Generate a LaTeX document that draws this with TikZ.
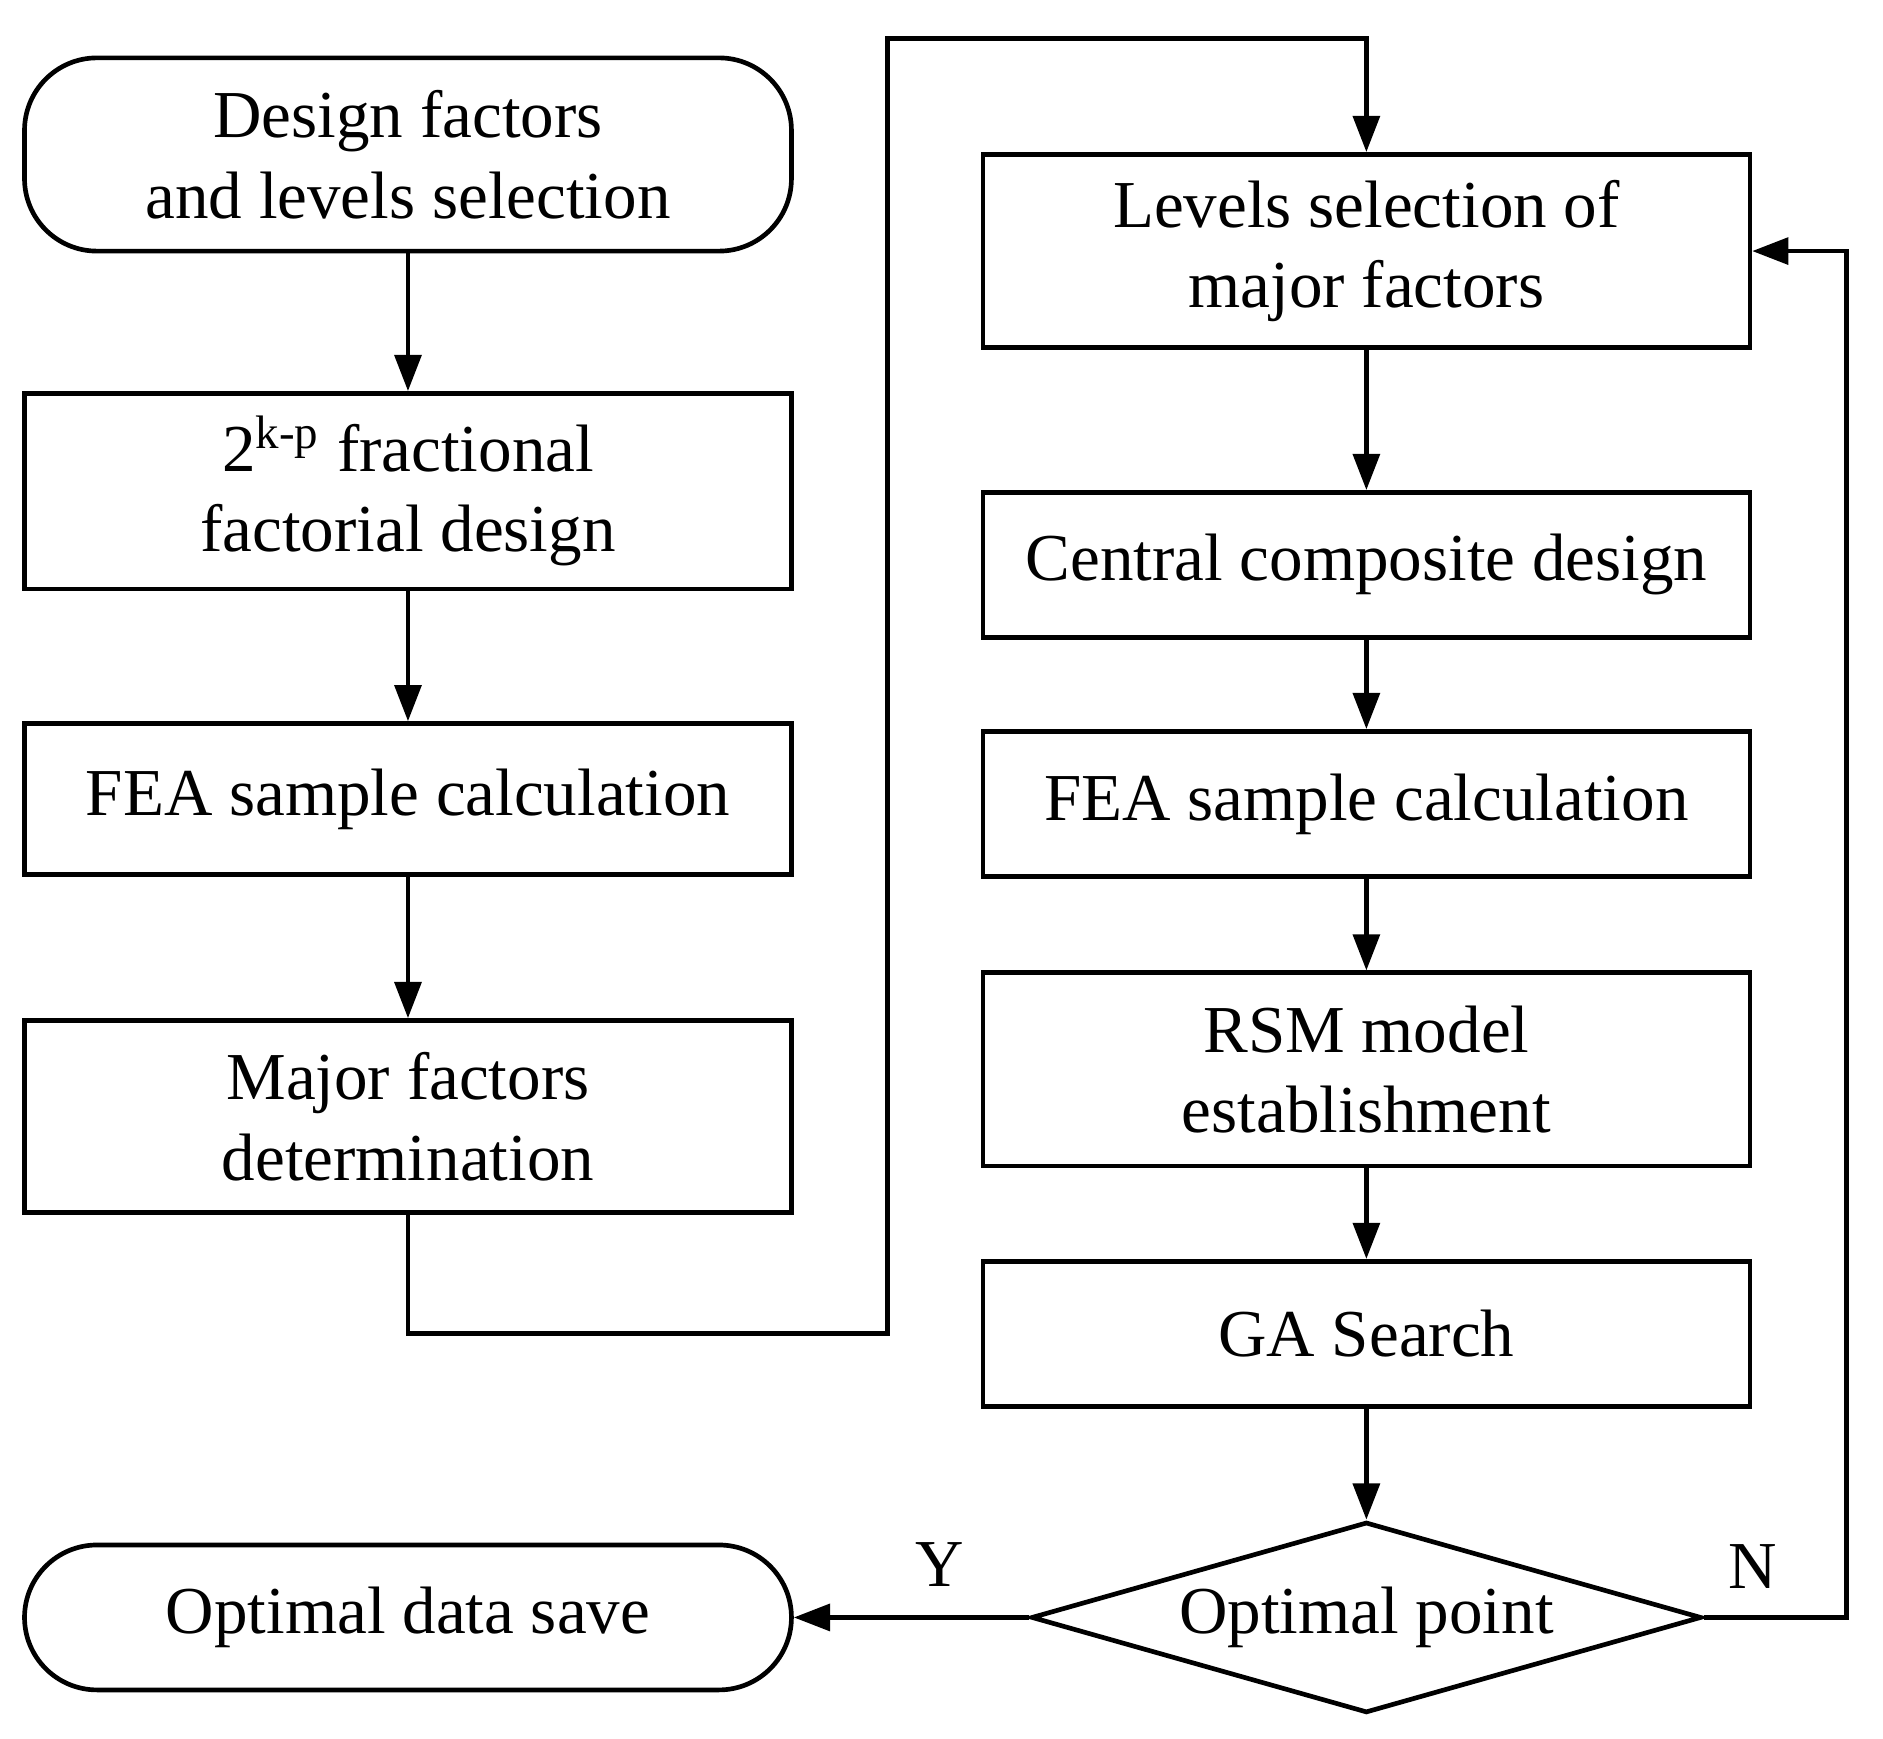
\documentclass[tikz,border=0pt]{standalone}
\usepackage{fontspec}
\setmainfont{Liberation Serif}
\usetikzlibrary{shapes.geometric, arrows.meta, positioning}

\begin{document}
\begin{tikzpicture}[
        x=0.01cm, y=-0.01cm,
        line width=1.1pt,
        every node/.style={font=\fontsize{15.8}{19}\selectfont},
        process/.style={rectangle, draw, minimum width=6.35cm, align=center, inner sep=0pt},
        terminal/.style={rectangle, rounded corners=0.6cm, draw, minimum width=6.35cm, align=center, inner sep=0pt},
        decision/.style={diamond, draw, minimum width=5.55cm, minimum height=1.58cm, aspect=3.5, inner sep=0pt},
        flow/.style={-{Triangle[length=0.3cm, width=0.22cm]}},
    ]
        \useasboundingbox (0,0) rectangle (1560,1440);

        % Left column
        \node[terminal, minimum height=1.6cm] at (338,128) (start) {Design factors\\and levels selection};
        \node[process, minimum height=1.62cm] at (338,407) (frac) {2\textsuperscript{k-p} fractional\\factorial design};
        \node[process, minimum height=1.25cm] at (338,662) (fea1) {FEA sample calculation};
        \node[process, minimum height=1.59cm] at (338,925) (major) {Major factors\\determination};
        \node[terminal, minimum height=1.2cm] at (338,1340) (save) {Optimal data save};

        % Right column
        \node[process, minimum height=1.6cm] at (1132,208) (levels) {Levels selection of\\major factors};
        \node[process, minimum height=1.2cm] at (1132,468) (ccd) {Central composite design};
        \node[process, minimum height=1.2cm] at (1132,666) (fea2) {FEA sample calculation};
        \node[process, minimum height=1.6cm] at (1132,886) (rsm) {RSM model\\establishment};
        \node[process, minimum height=1.2cm] at (1132,1105) (ga) {GA Search};
        \node[decision] at (1132,1340) (opt) {Optimal point};

        % Connectors
        \draw[flow] (start) -- (frac);
        \draw[flow] (frac) -- (fea1);
        \draw[flow] (fea1) -- (major);
        \draw[flow] (major.south) |- (735,1105) -- (735,32) -| (levels.north);
        \draw[flow] (levels) -- (ccd);
        \draw[flow] (ccd) -- (fea2);
        \draw[flow] (fea2) -- (rsm);
        \draw[flow] (rsm) -- (ga);
        \draw[flow] (ga) -- (opt);
        \draw[flow] (opt.west) -- (save.east) node[pos=0.38, above=0.12cm] {Y};
        \draw[flow] (opt.east) -- (1530,1340) |- (levels.east);
        \node at (1452,1298) (no) {N};
    \end{tikzpicture}
\end{document}
